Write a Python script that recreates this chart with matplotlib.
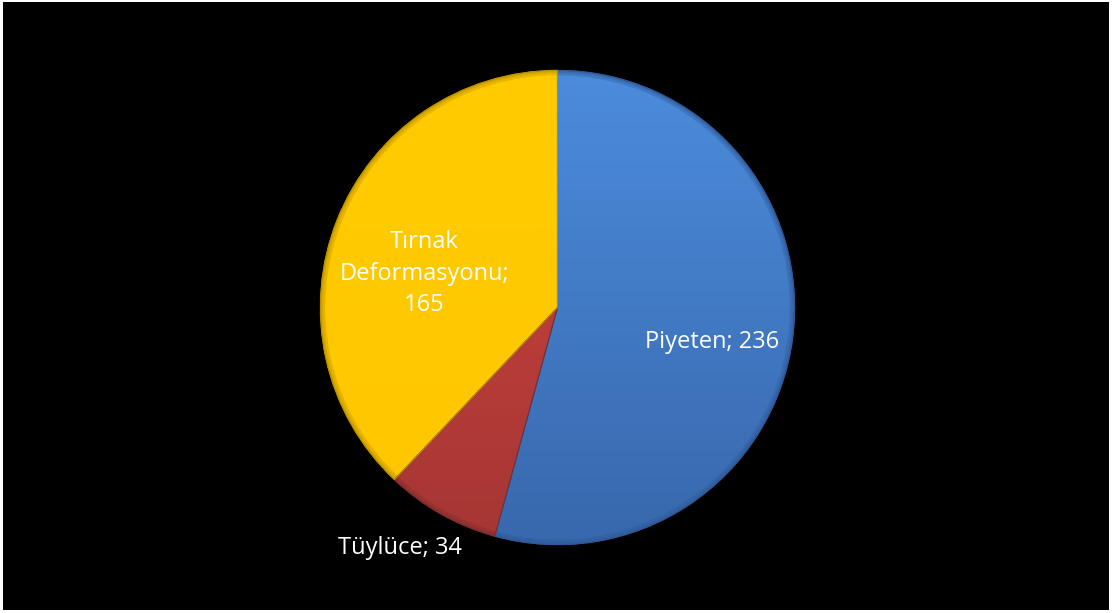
import matplotlib.pyplot as plt
from matplotlib.patches import Rectangle, Wedge
from matplotlib.colors import LinearSegmentedColormap
import numpy as np

labels = ["Piyeten", "Tüylüce", "Tırnak\nDeformasyonu;\n"]
values = [236, 34, 165]
top_colors = ["#4C8CDC", "#D2453F", "#FFCC00"]
bottom_colors = ["#3868AD", "#A53634", "#FFC600"]
edge_colors = ["#2C5896", "#7E2D2B", "#B88F00"]
label_dist = [0.67, 1.213, 0.58]
label_shift = [-5.0, -3.8, 7.5]   # degrees, nudges label placement

W, H = 1113, 613
fig = plt.figure(figsize=(W / 100, H / 100), dpi=100, facecolor="white")
fig.patches.append(Rectangle((3 / W, 3 / H), 1106 / W, 608 / H,
                             transform=fig.transFigure, facecolor="black",
                             edgecolor="none", zorder=-10))

# pie center (557.5, 307.5) px, radius 237 px
R = 237
span = 2.5 * R
ax = fig.add_axes([(557.5 - span / 2) / W, (H - 307.5 - span / 2) / H,
                   span / W, span / H])
ax.set_facecolor("none")

wedges, _ = ax.pie(values, colors=top_colors, startangle=90, counterclock=False,
                   wedgeprops=dict(linewidth=1.0))

grad = np.linspace(1, 0, 256).reshape(-1, 1)
for w, c1, c2, ec in zip(wedges, top_colors, bottom_colors, edge_colors):
    w.set_edgecolor(ec)
    cmap = LinearSegmentedColormap.from_list("g", [c2, c1])
    im = ax.imshow(grad, cmap=cmap, extent=[-1, 1, -1, 1], aspect="auto",
                   zorder=w.get_zorder() + 0.1, interpolation="bilinear")
    im.set_clip_path(w)
    # soft bevel rim
    ax.add_patch(Wedge((0, 0), 1.0, w.theta1, w.theta2, width=0.02,
                       facecolor=ec, edgecolor="none", alpha=0.35, zorder=3))
    ax.add_patch(Wedge((0, 0), 1.0, w.theta1, w.theta2, width=0.01,
                       facecolor=ec, edgecolor="none", alpha=0.35, zorder=3))
    ax.add_patch(Wedge((0, 0), 1.0, w.theta1, w.theta2, facecolor="none",
                       edgecolor=ec, linewidth=0.8, zorder=4))

for w, lab, v, d, s in zip(wedges, labels, values, label_dist, label_shift):
    ang = np.deg2rad((w.theta1 + w.theta2) / 2 + s)
    sep = "" if lab.endswith("\n") else "; "
    ax.text(d * np.cos(ang), d * np.sin(ang), f"{lab}{sep}{v}", color="white",
            ha="center", va="center", fontsize=17, family="Open Sans",
            linespacing=1.42, zorder=5)

ax.set_xlim(-1.25, 1.25)
ax.set_ylim(-1.25, 1.25)
ax.set_aspect("equal")
ax.axis("off")

fig.savefig("out.png", dpi=100, facecolor="white")
